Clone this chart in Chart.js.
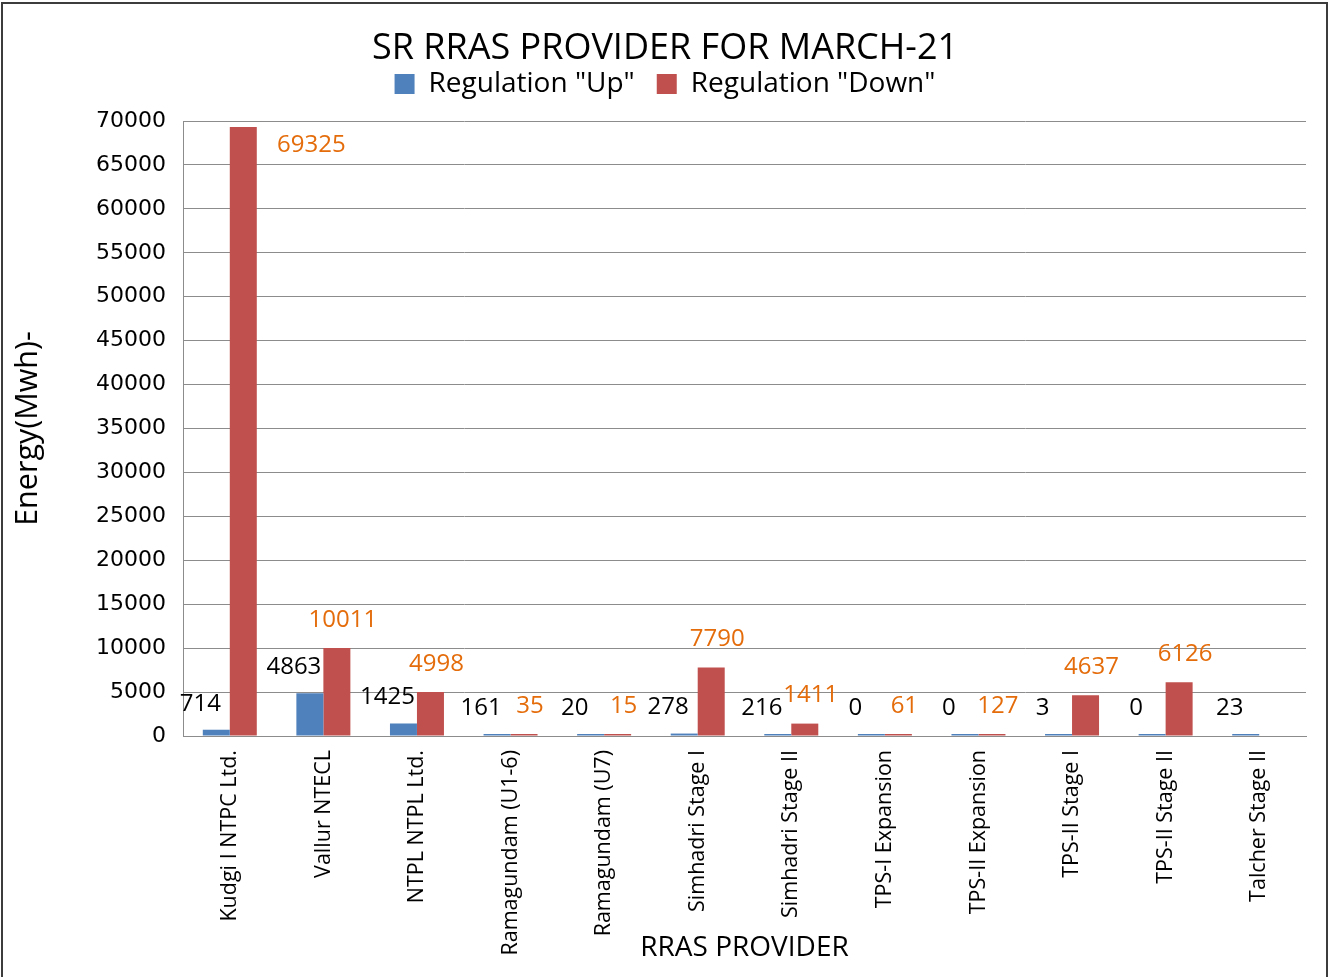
<!DOCTYPE html>
<html>
<head>
<meta charset="utf-8">
<title>SR RRAS Provider for March-21</title>
<script src="https://cdn.jsdelivr.net/npm/chart.js@4.4.1/dist/chart.umd.min.js"></script>
<style>
  html, body { margin: 0; padding: 0; background: #fff; overflow: hidden; }
  #wrap { position: relative; width: 1330px; height: 977px; }
  #frame { position: absolute; left: 1px; top: 2px; width: 1327px; height: 1000px;
           border: 2px solid #3c3c3c; box-sizing: border-box; pointer-events: none; }
  canvas { position: absolute; left: 0; top: 0; }
</style>
</head>
<body>
<div id="wrap">
  <canvas id="rrasChart" width="1330" height="977"></canvas>
  <div id="frame"></div>
</div>
<script>
const providers = [
    "Kudgi I NTPC Ltd.",
    "Vallur NTECL",
    "NTPL NTPL Ltd.",
    "Ramagundam (U1-6)",
    "Ramagundam (U7)",
    "Simhadri Stage I",
    "Simhadri Stage II",
    "TPS-I Expansion",
    "TPS-II Expansion",
    "TPS-II Stage I",
    "TPS-II Stage II",
    "Talcher Stage II"
];
const regulationUp = [714, 4863, 1425, 161, 20, 278, 216, 0, 0, 3, 0, 23];
const regulationDown = [69325, 10011, 4998, 35, 15, 7790, 1411, 61, 127, 4637, 6126, null];
const yMin = 0;
const yMax = 70000;
const yStep = 5000;

const FONT = "'Open Sans', 'DejaVu Sans', sans-serif";

// value labels: "Up" in black left of the pair, "Down" in orange above the red bar
const valueLabels = {
    id: "valueLabels",
    afterDatasetsDraw(chart) {
        const ctx = chart.ctx;
        const area = chart.chartArea;
        ctx.save();
        ctx.font = "24px " + FONT;
        ctx.textAlign = "center";
        ctx.textBaseline = "middle";
        chart.data.datasets.forEach((ds, di) => {
            const meta = chart.getDatasetMeta(di);
            meta.data.forEach((bar, i) => {
                const v = ds.data[i];
                if (v === null || v === undefined) return;
                let x, y;
                if (di === 0) {
                    x = bar.x - 16;
                    y = Math.min(bar.y, area.bottom) - 26;
                } else {
                    x = bar.x + 6;
                    y = Math.min(bar.y, area.bottom) - 28;
                    if (y < area.top + 12) {
                        x = bar.x + 68;
                        y = bar.y + 18;
                    }
                }
                ctx.fillStyle = di === 0 ? "#000000" : "#E46C0A";
                ctx.fillText(String(v), x, y);
            });
        });
        ctx.restore();
    }
};

const ctx = document.getElementById("rrasChart").getContext("2d");
new Chart(ctx, {
    type: "bar",
    data: {
        labels: providers,
        datasets: [
            {
                label: 'Regulation "Up"',
                data: regulationUp,
                backgroundColor: "#4F81BD",
                borderWidth: 0,
                minBarLength: 2,
                categoryPercentage: 0.577,
                barPercentage: 1.0
            },
            {
                label: 'Regulation "Down"',
                data: regulationDown,
                backgroundColor: "#C0504D",
                borderWidth: 0,
                minBarLength: 2,
                categoryPercentage: 0.577,
                barPercentage: 1.0
            }
        ]
    },
    options: {
        responsive: false,
        animation: false,
        layout: { padding: { left: 24, right: 24, top: 0, bottom: 0 } },
        plugins: {
            title: {
                display: true,
                text: "SR RRAS PROVIDER FOR MARCH-21",
                color: "#000",
                font: { family: FONT, size: 36, weight: "normal" },
                padding: { top: 10, bottom: -22 }
            },
            // empty spacer between legend and plot
            subtitle: {
                display: true,
                text: "",
                weight: 500,
                font: { size: 13, lineHeight: 1 },
                padding: 0
            },
            legend: {
                display: true,
                labels: {
                    color: "#000",
                    font: { family: FONT, size: 28 },
                    boxWidth: 20,
                    boxHeight: 20,
                    padding: 22
                }
            },
            tooltip: { enabled: false }
        },
        scales: {
            x: {
                grid: { display: false, drawTicks: false },
                border: { display: true, color: "#8c8c8c", width: 1 },
                ticks: {
                    color: "#000",
                    font: { family: FONT, size: 21.5 },
                    maxRotation: 90,
                    minRotation: 90,
                    autoSkip: false,
                    padding: 14
                },
                title: {
                    display: true,
                    text: "RRAS PROVIDER",
                    color: "#000",
                    font: { family: FONT, size: 28 },
                    padding: { top: 0, bottom: 12 }
                },
                afterFit: scale => { scale.height = 241; }
            },
            y: {
                min: yMin,
                max: yMax,
                grid: { color: "#8c8c8c", lineWidth: 1, drawTicks: false },
                border: { display: true, color: "#8c8c8c", width: 1 },
                ticks: {
                    stepSize: yStep,
                    color: "#000",
                    font: { family: "'DejaVu Sans', sans-serif", size: 22 },
                    padding: 17,
                    callback: value => String(value)
                },
                title: {
                    display: true,
                    text: "Energy(Mwh)-",
                    color: "#000",
                    font: { family: FONT, size: 30.5 },
                    padding: { top: -14, bottom: 0 }
                },
                afterFit: scale => {
                    scale.width = 159;
                    scale.paddingTop = 121;   // keeps the plot top below the legend
                }
            }
        }
    },
    plugins: [valueLabels]
});
</script>
</body>
</html>
